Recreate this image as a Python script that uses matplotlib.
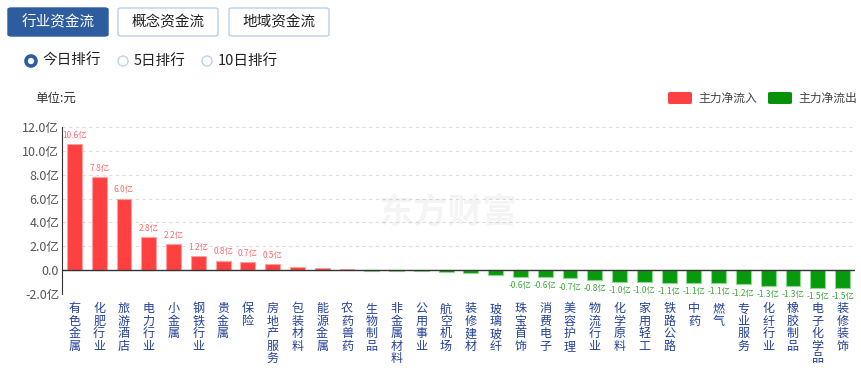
import matplotlib.pyplot as plt
from matplotlib.patches import FancyBboxPatch, Ellipse
import numpy as np

plt.rcParams['font.family'] = ['Noto Sans CJK SC', 'DejaVu Sans']

# 行业名称与主力净流入(亿元)
industries = ['有色金属', '化肥行业', '旅游酒店', '电力行业', '小金属', '钢铁行业', '贵金属', '保险',
              '房地产服务', '包装材料', '能源金属', '农药兽药', '生物制品', '非金属材料', '公用事业',
              '航空机场', '装修建材', '玻璃玻纤', '珠宝首饰', '消费电子', '美容护理', '物流行业',
              '化学原料', '家用轻工', '铁路公路', '中药', '燃气', '专业服务', '化纤行业', '橡胶制品',
              '电子化学品', '装修装饰']
net_flow = [10.6, 7.8, 6.0, 2.8, 2.2, 1.2, 0.8, 0.7, 0.5, 0.25, 0.18, 0.08, -0.03, -0.1, -0.1,
            -0.14, -0.2, -0.42, -0.6, -0.6, -0.7, -0.8, -1.0, -1.0, -1.1, -1.1, -1.1, -1.2, -1.3,
            -1.3, -1.5, -1.5]
yticks = [-2, 0, 2, 4, 6, 8, 10, 12]

W, H = 861, 370
fig = plt.figure(figsize=(W / 100, H / 100), dpi=100)


def fx(px):
    return px / W


def fy(py):
    return 1 - py / H


# 顶部按钮
buttons = [('行业资金流', 8, True), ('概念资金流', 118, False), ('地域资金流', 229, False)]
for label, x0, active in buttons:
    face = '#2d5d9f' if active else 'white'
    edge = '#2d5d9f' if active else '#b8d0ea'
    fig.patches.append(FancyBboxPatch((fx(x0), fy(36)), fx(100), 28 / H,
                                      boxstyle='round,pad=0,rounding_size=0.004',
                                      transform=fig.transFigure, facecolor=face,
                                      edgecolor=edge, linewidth=1))
    fig.text(fx(x0 + 50), fy(22), label, ha='center', va='center', fontsize=10.5,
             color='white' if active else '#222222')

# 排行单选
radios = [('今日排行', 31, True), ('5日排行', 123, False), ('10日排行', 207, False)]
for label, cx, on in radios:
    fig.patches.append(Ellipse((fx(cx), fy(61)), 10 / W, 10 / H, transform=fig.transFigure,
                               facecolor='white', edgecolor='#2d5d9f' if on else '#bcd3ea',
                               linewidth=2.6 if on else 1))
    fig.text(fx(cx + 11), fy(61), label, ha='left', va='center', fontsize=10.5, color='#222222')

fig.text(fx(35), fy(98), '单位:元', ha='left', va='center', fontsize=9, color='#333333')

# 图例
legend_items = [('主力净流入', 668, '#ff4040'), ('主力净流出', 768, '#079207')]
for label, x0, col in legend_items:
    fig.patches.append(FancyBboxPatch((fx(x0), fy(104)), fx(24), 12 / H,
                                      boxstyle='round,pad=0,rounding_size=0.003',
                                      transform=fig.transFigure, facecolor=col, edgecolor='none'))
    fig.text(fx(x0 + 30), fy(98), label, ha='left', va='center', fontsize=8.5, color='#444444')

# 水印
fig.text(fx(448), fy(212), '东方财富', ha='center', va='center', fontsize=25,
         fontweight='bold', color='#000000', alpha=0.045)

ax = fig.add_axes([fx(62), fy(294), fx(855 - 62), (294 - 127) / H])
x = np.arange(len(industries))
vals = np.array(net_flow)
pos = vals >= 0

red_bars = ax.bar(x[pos], vals[pos], width=0.6, color='#ff4040', edgecolor='#ffa0a0',
                  linewidth=0.8, zorder=3)
green_bars = ax.bar(x[~pos], vals[~pos], width=0.6, color='#079a0d', edgecolor='#8fd88f',
                    linewidth=0.8, zorder=3)

red_labels = ['%.1f亿' % v if v >= 0.5 else '' for v in vals[pos]]
green_labels = ['%.1f亿' % v if v <= -0.55 else '' for v in vals[~pos]]
ax.bar_label(red_bars, labels=red_labels, padding=3, fontsize=6, color='#ff6b6b')
ax.bar_label(green_bars, labels=green_labels, padding=3, fontsize=6, color='#3aa83a')

ax.set_xlim(-0.5, len(industries) - 0.5)
ax.set_ylim(-2, 12)
ax.set_yticks(yticks)
ax.set_yticklabels(['%.1f亿' % t if t != 0 else '0.0' for t in yticks],
                   fontsize=9, color='#555555')
ax.grid(axis='y', color='#dddddd', linestyle=(0, (3, 3)), linewidth=0.8, zorder=0)
ax.axhline(0, color='#333333', linewidth=1, zorder=4)

ax.set_xticks(x)
ax.set_xticklabels(['\n'.join(name) for name in industries], fontsize=8.7,
                   color='#24409a', va='top', linespacing=0.95)
ax.tick_params(axis='x', length=0, pad=6)
ax.tick_params(axis='y', length=0, pad=2)

for side in ['top', 'right', 'bottom']:
    ax.spines[side].set_visible(False)
ax.spines['left'].set_color('#333333')

fig.savefig('out.png', dpi=100)
